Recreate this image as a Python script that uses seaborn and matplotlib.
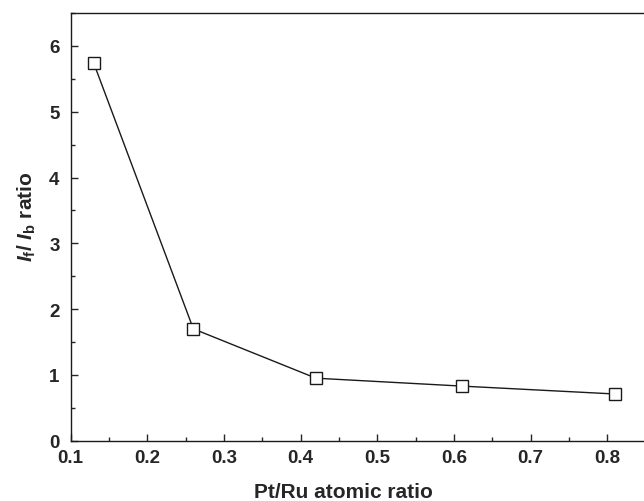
import pandas as pd
import matplotlib
matplotlib.use('Agg')
import matplotlib.pyplot as plt
from matplotlib.ticker import MultipleLocator
import seaborn as sns

# datos
pt_ru_ratio = [0.13, 0.26, 0.42, 0.61, 0.81]
if_ib_ratio = [5.74, 1.70, 0.95, 0.83, 0.71]

df = pd.DataFrame({'pt_ru': pt_ru_ratio, 'ratio': if_ib_ratio})

sns.set_style('ticks')
plt.rcParams['font.family'] = ['Liberation Sans', 'DejaVu Sans']
plt.rcParams['font.weight'] = 'bold'
plt.rcParams['mathtext.fontset'] = 'custom'
plt.rcParams['mathtext.rm'] = 'Liberation Sans:bold'
plt.rcParams['mathtext.it'] = 'Liberation Sans:italic:bold'
plt.rcParams['mathtext.bf'] = 'Liberation Sans:bold'

fig = plt.figure(figsize=(6.44, 5.02), dpi=100)
ax = fig.add_axes([70.7 / 644, 1 - 441.7 / 502, (645.5 - 70.7) / 644, (441.7 - 14) / 502])

sns.lineplot(data=df, x='pt_ru', y='ratio', ax=ax, color='#1a1a1a', linewidth=1.0,
             marker='s', markersize=8, markerfacecolor='white',
             markeredgecolor='#1a1a1a', markeredgewidth=1.0)

ax.set_xlim(0.1, 0.85)
ax.set_ylim(0, 6.5)
ax.xaxis.set_minor_locator(MultipleLocator(0.05))
ax.yaxis.set_minor_locator(MultipleLocator(0.5))
ax.set_xticks([0.1, 0.2, 0.3, 0.4, 0.5, 0.6, 0.7, 0.8])
ax.set_yticks([0, 1, 2, 3, 4, 5, 6])
ax.tick_params(which='major', direction='in', length=5, width=1, labelsize=13.5)
ax.tick_params(axis='x', which='major', pad=6)
ax.tick_params(axis='y', which='major', pad=8)
ax.tick_params(which='minor', direction='in', length=3, width=1)

for s in ax.spines.values():
    s.set_linewidth(1.0)
    s.set_color('#1a1a1a')

ax.set_xlabel('Pt/Ru atomic ratio', fontsize=15, fontweight='bold')
ax.set_ylabel(r'$I_{\rm f}$/ $I_{\rm b}$ ratio', fontsize=15, fontweight='bold')
ax.xaxis.set_label_coords(0.474, -0.0966)
ax.yaxis.set_label_coords(-0.057, 0.525)

fig.savefig('out.png', dpi=100)
